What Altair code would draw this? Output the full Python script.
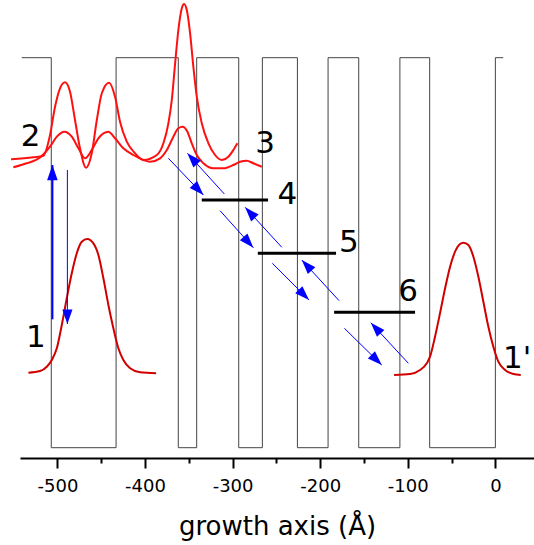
import math
import altair as alt
import pandas as pd

# ---- data (growth axis in Angstrom, energy in meV) ----
layer_edges = [-540.7, -507, -433, -362, -341, -293, -266, -226, -191, -156, -109, -75, 0, 9]
layer_potential = [390, 0, 390, 0, 390, 0, 390, 0, 390, 0, 390, 0, 390, 390]

upper_a_x = [-552.9, -527.4, -516.0, -508.4, -502.7, -497.0, -491.3, -485.6, -479.9, -474.2,
             -467.3, -460.8, -455.0, -449.3, -441.0, -434.2, -428.5, -420.8, -411.3, -401.8,
             -386.5, -379.0, -373.3, -369.4, -365.6, -361.9, -358.0, -355.4, -352.3, -348.5,
             -344.8, -340.9, -335.2, -327.6, -320.0, -312.3, -304.8, -299.1, -294.5]
upper_a_e = [288.4, 290.4, 292.0, 312.7, 341.0, 359.4, 365.4, 356.0, 327.7, 299.4,
             280.0, 294.4, 327.7, 354.4, 365.0, 351.0, 326.0, 306.0, 294.4, 287.7,
             292.7, 304.4, 324.4, 347.7, 384.4, 417.7, 439.4, 443.7, 437.7, 414.4,
             381.0, 351.0, 324.4, 304.4, 292.7, 287.7, 291.0, 297.7, 304.4]

upper_b_x = [-550.3, -535.0, -519.8, -508.4, -500.7, -492.0, -483.6, -476.0, -468.4, -460.8,
             -453.2, -441.8, -434.2, -424.7, -413.3, -401.8, -394.2, -382.8, -375.1, -367.6,
             -361.9, -356.9, -351.6, -346.6, -340.9, -333.3, -321.9, -310.5, -299.1, -291.5,
             -283.8, -276.3, -266.7]
upper_b_e = [280.4, 284.4, 290.2, 301.0, 311.0, 316.0, 311.0, 299.4, 289.4, 297.7,
             309.4, 316.0, 309.4, 299.4, 292.7, 287.7, 286.0, 289.4, 297.7, 311.0,
             319.4, 321.0, 316.0, 304.4, 292.7, 284.4, 279.4, 279.4, 282.7, 286.0,
             287.0, 284.4, 281.0]

ground_x = [-533.1, -519.8, -512.1, -506.4, -500.7, -495.0, -489.3, -483.6, -477.9, -472.2,
            -465.8, -458.9, -453.2, -447.5, -441.8, -436.1, -430.4, -424.7, -417.0, -405.6, -387.3]
ground_e = [75.0, 76.7, 81.0, 87.7, 99.4, 122.7, 149.4, 174.4, 194.4, 206.0,
            208.7, 204.4, 192.7, 169.4, 142.7, 119.4, 99.4, 87.7, 79.4, 75.4, 74.4]

ground2_x = [-115.6, -97.4, -86.0, -78.3, -74.6, -68.9, -63.2, -57.4, -51.7, -46.0, -40.3,
             -36.5, -30.8, -25.1, -19.4, -13.7, -8.0, -2.3, 3.4, 11.1, 20.5, 29.0]
ground2_e = [72.7, 73.7, 77.7, 84.4, 91.0, 111.0, 134.4, 159.4, 181.0, 196.0, 203.7,
             205.0, 202.7, 191.0, 171.0, 146.0, 121.0, 101.0, 86.0, 77.7, 73.7, 72.7]

level_x1 = [-335.2, -271.2, -184.1]
level_x2 = [-259.5, -181.9, -91.7]
level_e = [247.7, 194.4, 135.4]

label_text = ["1", "2", "3", "4", "5", "6", "1'"]
label_x = [-524.7, -530.6, -262.9, -237.6, -167.4, -99.7, 24.8]
label_e = [109.9, 310.4, 303.7, 252.4, 204.9, 155.7, 89.0]

# optical transition (thick up arrow)
pump_x = [-505.7]
pump_e_tail = [128.4]
pump_e_tip = [282.7]

# thin arrows: tail -> tip
arr_x_tail = [-488.6, -373.3, -309.4, -314.3, -243.8, -254.6, -178.4, -172.4, -99.3]
arr_e_tail = [277.7, 289.4, 253.7, 237.0, 200.4, 184.4, 147.0, 119.4, 84.4]
arr_x_tip = [-488.6, -333.3, -351.6, -276.3, -285.7, -212.7, -221.0, -129.7, -142.2]
arr_e_tip = [123.7, 252.7, 294.4, 200.0, 240.4, 147.7, 187.7, 82.7, 125.0]

tick_values = [-500, -450, -400, -350, -300, -250, -200, -150, -100, -50, 0]

# ---- layout ----
W, H = 514, 458
x_dom = [-542.7, 44.1]
y_dom = [-10.3, 447.7]
kx = W / (x_dom[1] - x_dom[0])
ky = H / (y_dom[1] - y_dom[0])

xs = alt.Scale(domain=x_dom, nice=False, zero=False)
ys = alt.Scale(domain=y_dom, nice=False, zero=False)

axis = alt.Axis(
    values=tick_values,
    labelExpr="datum.value % 100 === 0 ? '' + datum.value : ''",
    tickSize=alt.condition("datum.value % 100 === 0", alt.value(10), alt.value(5)),
    tickWidth=2, tickColor="black",
    domainColor="black", domainWidth=2,
    labelFont="DejaVu Sans", labelFontSize=18, labelColor="black", labelPadding=9,
    labelFlush=False,
    title="growth axis (Å)", titleFont="DejaVu Sans", titleFontSize=26,
    titleFontWeight="normal", titleColor="black", titleY=76, titleBaseline="alphabetic",
    grid=False,
)

def X(field):
    return alt.X(field, scale=xs, axis=axis)

def Y(field):
    return alt.Y(field, scale=ys, axis=None)

band = pd.DataFrame({"x": layer_edges, "y": layer_potential})
band_layer = alt.Chart(band).mark_line(interpolate="step-after", color="#444444", strokeWidth=1).encode(
    x=X("x:Q"), y=Y("y:Q"))

def curve(xv, ev, color):
    df = pd.DataFrame({"x": xv, "y": ev, "o": range(len(xv))})
    return alt.Chart(df).mark_line(interpolate="monotone", color=color, strokeWidth=2).encode(
        x=X("x:Q"), y=Y("y:Q"), order="o:Q")

ca = curve(upper_a_x, upper_a_e, "#ff1010")
cb = curve(upper_b_x, upper_b_e, "#ff1010")
cg = curve(ground_x, ground_e, "#d00000")
cg2 = curve(ground2_x, ground2_e, "#d00000")

levels = pd.DataFrame({"x": level_x1, "x2": level_x2, "y": level_e})
level_layer = alt.Chart(levels).mark_rule(color="black", strokeWidth=3).encode(
    x=X("x:Q"), x2="x2:Q", y=Y("y:Q"))

labels = pd.DataFrame({"t": label_text, "x": label_x, "y": label_e})
label_layer = alt.Chart(labels).mark_text(font="DejaVu Sans", fontSize=31, color="black",
                                          align="center", baseline="middle").encode(
    x=X("x:Q"), y=Y("y:Q"), text="t:N")

def heads(xt, yt, xtip, ytip):
    ang = []
    for a, b, c, d in zip(xt, yt, xtip, ytip):
        dx = (c - a) * kx
        dy = -(d - b) * ky
        ang.append(math.degrees(math.atan2(dx, -dy)) % 360)
    return pd.DataFrame({"x": xt, "y": yt, "a": ang, "xh": xtip, "yh": ytip})

head_shape = "M0,0L-0.7,2L0.7,2Z"

pump = heads(pump_x, pump_e_tail, pump_x, pump_e_tip)
pump_line = alt.Chart(pump).mark_rule(color="#0000ff", strokeWidth=2).encode(
    x=X("x:Q"), y=Y("y:Q"), x2="xh:Q", y2="yh:Q")
pump_head = alt.Chart(pump).mark_point(shape=head_shape, filled=True, size=230, color="#0000ff",
                                       opacity=1, strokeWidth=0).encode(
    x=X("xh:Q"), y=Y("yh:Q"), angle=alt.Angle("a:Q", scale=None))

thin = heads(arr_x_tail, arr_e_tail, arr_x_tip, arr_e_tip)
thin_line = alt.Chart(thin).mark_rule(color="#0000ff", strokeWidth=1).encode(
    x=X("x:Q"), y=Y("y:Q"), x2="xh:Q", y2="yh:Q")
thin_head = alt.Chart(thin).mark_point(shape=head_shape, filled=True, size=210, color="#0000ff",
                                       opacity=1, strokeWidth=0).encode(
    x=X("xh:Q"), y=Y("yh:Q"), angle=alt.Angle("a:Q", scale=None))

chart = alt.layer(
    band_layer, cg, cg2, ca, cb, level_layer, pump_line, thin_line, pump_head, thin_head, label_layer
).properties(
    width=W, height=H,
    autosize=alt.AutoSizeParams(type="none"),
    padding={"left": 20, "top": 0, "right": 0, "bottom": 545 - H},
    background="white",
).configure_view(stroke=None)

chart.save("out.html", embed_options={"renderer": "svg", "actions": False})
